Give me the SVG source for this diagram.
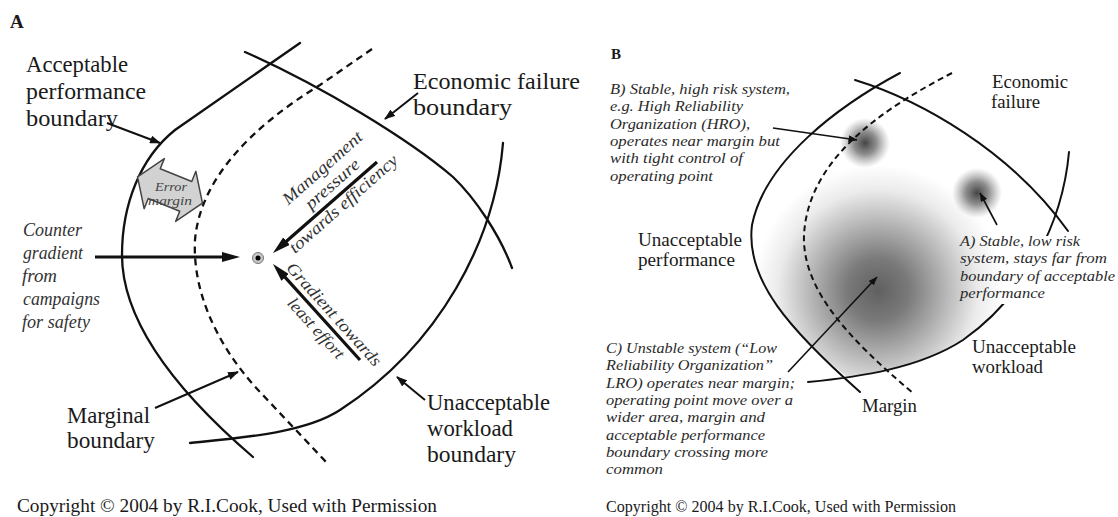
<svg xmlns="http://www.w3.org/2000/svg" width="1118" height="517" viewBox="0 0 1118 517">
<defs>
<style>
.t{font-family:"Liberation Serif","Times New Roman",serif;fill:#1a1a1a}
.hd{font-weight:bold}
.lbA{font-size:23px}
.itA{font-size:18px;font-style:italic;fill:#333}
.rot{font-size:17px;font-style:italic;fill:#333}
.em{font-size:13.5px;font-style:italic;fill:#444}
.itB{font-size:15px;font-style:italic;fill:#2a2a2a}
.lbB{font-size:18px}
.cpA{font-size:19px}
.cpB{font-size:16px}
.bound{fill:none;stroke:#111;stroke-width:2.3;stroke-linecap:round}
.dash{fill:none;stroke:#111;stroke-width:2.3;stroke-dasharray:7 5}
.boundB{fill:none;stroke:#111;stroke-width:2;stroke-linecap:round}
.dashB{fill:none;stroke:#111;stroke-width:2;stroke-dasharray:6 4}
.arA{stroke:#111;stroke-width:2;fill:none;marker-end:url(#mA)}
.arT{stroke:#111;stroke-width:3.2;fill:none;marker-end:url(#mT)}
.arB{stroke:#111;stroke-width:1.6;fill:none;marker-end:url(#mB)}
</style>
<marker id="mA" markerUnits="userSpaceOnUse" markerWidth="11" markerHeight="8" viewBox="0 0 11 8" refX="10" refY="4" orient="auto"><path d="M0,0 L11,4 L0,8 z" fill="#111"/></marker>
<marker id="mT" markerUnits="userSpaceOnUse" markerWidth="18" markerHeight="10" viewBox="0 0 18 10" refX="10" refY="5" orient="auto"><path d="M0,0 L18,5 L0,10 z" fill="#111"/></marker>
<marker id="mB" markerUnits="userSpaceOnUse" markerWidth="9" markerHeight="7" viewBox="0 0 9 7" refX="8.5" refY="3.5" orient="auto"><path d="M0,0 L9,3.5 L0,7 z" fill="#111"/></marker>
<radialGradient id="gBig" cx="878" cy="290" r="125" gradientUnits="userSpaceOnUse"><stop offset="0" stop-color="#606060"/><stop offset="0.25" stop-color="#7a7a7a"/><stop offset="0.55" stop-color="#b8b8b8"/><stop offset="0.8" stop-color="#ebebeb"/><stop offset="1" stop-color="#fff"/></radialGradient>
<radialGradient id="gSm"><stop offset="0" stop-color="#444" stop-opacity="1"/><stop offset="0.45" stop-color="#666" stop-opacity="0.75"/><stop offset="1" stop-color="#888" stop-opacity="0"/></radialGradient>
<clipPath id="cBig"><path d="M900,73 C840,105 765,160 752,225 C745,280 790,330 847,377 L887,371 L920,362 L963,340 L998,310 L1030,265 L1055,210 L1069,152 L1069,60 Z"/></clipPath>
<mask id="mW" maskUnits="userSpaceOnUse" x="0" y="0" width="1118" height="517"><rect x="0" y="0" width="1118" height="517" fill="#fff"/><rect x="950" y="236" width="168" height="68" fill="#000"/></mask>
</defs>
<rect width="1118" height="517" fill="#fff"/>

<!-- Panel A -->
<g id="panelA-title"><text class="t hd" x="10" y="28" style="font-size:19px">A</text></g>
<g id="A-boundaries">
<path id="A-acceptable" class="bound" d="M300,43 L175,130 C140,158 122,205 122,255 C122,320 175,390 253,457"/>
<path id="A-economic" class="bound" d="M245,52 C320,85 410,140 453,177 C475,198 500,235 512,268"/>
<path id="A-workload" class="bound" d="M503,143 C495,240 440,345 340,410 C305,433 240,438 190,443"/>
<path id="A-marginal" class="dash" d="M372,49 L320,85 C250,128 200,180 195,240 C192,300 225,355 260,392 L327,463"/>
</g>
<g id="error-margin">
<polygon transform="translate(170,190) rotate(22)" points="-35,0 -17,-27 -17,-16 17,-16 17,-27 35,0 17,27 17,16 -17,16 -17,27" fill="#d2d2d2" stroke="#444" stroke-width="1.5" stroke-linejoin="round"/>
<text class="t em" x="171" y="191" text-anchor="middle" textLength="32" lengthAdjust="spacingAndGlyphs">Error</text>
<text class="t em" x="170" y="205" text-anchor="middle" textLength="44" lengthAdjust="spacingAndGlyphs">margin</text>
</g>
<g id="operating-point">
<circle cx="258" cy="258" r="5.5" fill="#c8c8c8" stroke="#777" stroke-width="1"/>
<circle cx="258" cy="258" r="2.5" fill="#000"/>
</g>
<g id="A-label-acceptable">
<text class="t lbA" x="26" y="72" textLength="102" lengthAdjust="spacingAndGlyphs">Acceptable</text>
<text class="t lbA" x="26" y="99" textLength="120" lengthAdjust="spacingAndGlyphs">performance</text>
<text class="t lbA" x="26" y="126" textLength="92" lengthAdjust="spacingAndGlyphs">boundary</text>
</g>
<g id="A-label-economic">
<text class="t lbA" x="413" y="89" textLength="167" lengthAdjust="spacingAndGlyphs">Economic failure</text>
<text class="t lbA" x="413" y="115" textLength="99" lengthAdjust="spacingAndGlyphs">boundary</text>
</g>
<g id="A-label-marginal">
<text class="t lbA" x="67" y="423" textLength="83" lengthAdjust="spacingAndGlyphs">Marginal</text>
<text class="t lbA" x="67" y="448" textLength="88" lengthAdjust="spacingAndGlyphs">boundary</text>
</g>
<g id="A-label-workload">
<text class="t lbA" x="427" y="410" textLength="123" lengthAdjust="spacingAndGlyphs">Unacceptable</text>
<text class="t lbA" x="427" y="436" textLength="86" lengthAdjust="spacingAndGlyphs">workload</text>
<text class="t lbA" x="427" y="462" textLength="89" lengthAdjust="spacingAndGlyphs">boundary</text>
</g>
<g id="A-label-counter">
<text class="t itA" x="23" y="236" textLength="59" lengthAdjust="spacingAndGlyphs">Counter</text>
<text class="t itA" x="23" y="259" textLength="60" lengthAdjust="spacingAndGlyphs">gradient</text>
<text class="t itA" x="22" y="282" textLength="35" lengthAdjust="spacingAndGlyphs">from</text>
<text class="t itA" x="23" y="305" textLength="77" lengthAdjust="spacingAndGlyphs">campaigns</text>
<text class="t itA" x="22" y="328" textLength="68" lengthAdjust="spacingAndGlyphs">for safety</text>
</g>
<g id="A-label-management">
<text class="t rot" x="326" y="172" text-anchor="middle" transform="rotate(-41.5 326 172)" textLength="101" lengthAdjust="spacingAndGlyphs">Management</text>
<text class="t rot" x="336" y="188" text-anchor="middle" transform="rotate(-41.5 336 188)" textLength="67" lengthAdjust="spacingAndGlyphs">pressure</text>
<text class="t rot" x="347" y="208" text-anchor="middle" transform="rotate(-41.5 347 208)" textLength="139" lengthAdjust="spacingAndGlyphs">towards efficiency</text>
</g>
<g id="A-label-gradient">
<text class="t rot" x="330" y="318" text-anchor="middle" transform="rotate(48 330 318)" textLength="133" lengthAdjust="spacingAndGlyphs">Gradient towards</text>
<text class="t rot" x="312" y="332" text-anchor="middle" transform="rotate(48 312 332)" textLength="76" lengthAdjust="spacingAndGlyphs">least effort</text>
</g>
<g id="A-copyright"><text class="t cpA" x="17" y="512" textLength="420" lengthAdjust="spacingAndGlyphs">Copyright © 2004 by R.I.Cook, Used with Permission</text></g>

<!-- Panel B -->
<g id="panelB-title"><text class="t hd" x="611" y="59" style="font-size:15px">B</text></g>
<g id="B-blobs">
<rect x="700" y="140" width="370" height="260" fill="url(#gBig)" clip-path="url(#cBig)"/>
<circle cx="865" cy="143" r="25" fill="url(#gSm)"/>
<circle cx="977" cy="193" r="25" fill="url(#gSm)"/>
</g>
<g id="B-boundaries">
<path id="B-acceptable" class="boundB" d="M900,73 C840,105 765,160 752,225 C745,280 790,330 860,392"/>
<path id="B-economic" class="boundB" d="M855,80 C920,100 1010,150 1068,231"/>
<path id="B-workload" class="boundB" mask="url(#mW)" d="M1069,152 C1062,230 1020,300 963,340 C920,368 860,377 808,382"/>
<path id="B-margin" class="dashB" d="M952,73 C880,110 808,160 804,235 C802,290 850,340 913,393"/>
</g>
<g id="B-label-hro">
<text class="t itB" x="610" y="94" textLength="180" lengthAdjust="spacingAndGlyphs">B) Stable, high risk system,</text>
<text class="t itB" x="610" y="111.3" textLength="133" lengthAdjust="spacingAndGlyphs">e.g. High Reliability</text>
<text class="t itB" x="610" y="128.6" textLength="140" lengthAdjust="spacingAndGlyphs">Organization (HRO),</text>
<text class="t itB" x="610" y="145.9" textLength="170" lengthAdjust="spacingAndGlyphs">operates near margin but</text>
<text class="t itB" x="610" y="163.2" textLength="133" lengthAdjust="spacingAndGlyphs">with tight control of</text>
<text class="t itB" x="610" y="180.5" textLength="103" lengthAdjust="spacingAndGlyphs">operating point</text>
</g>
<g id="B-label-low">
<text class="t itB" x="960" y="246" textLength="120" lengthAdjust="spacingAndGlyphs">A) Stable, low risk</text>
<text class="t itB" x="960" y="263.3" textLength="147" lengthAdjust="spacingAndGlyphs">system, stays far from</text>
<text class="t itB" x="960" y="280.6" textLength="155" lengthAdjust="spacingAndGlyphs">boundary of acceptable</text>
<text class="t itB" x="960" y="297.9" textLength="85" lengthAdjust="spacingAndGlyphs">performance</text>
</g>
<g id="B-label-lro">
<text class="t itB" x="606" y="353" textLength="171" lengthAdjust="spacingAndGlyphs">C) Unstable system (“Low</text>
<text class="t itB" x="606" y="370.3" textLength="167" lengthAdjust="spacingAndGlyphs">Reliability Organization”</text>
<text class="t itB" x="606" y="387.6" textLength="189" lengthAdjust="spacingAndGlyphs">LRO) operates near margin;</text>
<text class="t itB" x="606" y="404.9" textLength="187" lengthAdjust="spacingAndGlyphs">operating point move over a</text>
<text class="t itB" x="606" y="422.2" textLength="159" lengthAdjust="spacingAndGlyphs">wider area, margin and</text>
<text class="t itB" x="606" y="439.5" textLength="159" lengthAdjust="spacingAndGlyphs">acceptable performance</text>
<text class="t itB" x="606" y="456.8" textLength="162" lengthAdjust="spacingAndGlyphs">boundary crossing more</text>
<text class="t itB" x="606" y="474.1" textLength="57" lengthAdjust="spacingAndGlyphs">common</text>
</g>
<g id="B-label-economic">
<text class="t lbB" x="992" y="88" textLength="76" lengthAdjust="spacingAndGlyphs">Economic</text>
<text class="t lbB" x="991" y="108" textLength="49" lengthAdjust="spacingAndGlyphs">failure</text>
</g>
<g id="B-label-performance">
<text class="t lbB" x="638" y="246" textLength="104" lengthAdjust="spacingAndGlyphs">Unacceptable</text>
<text class="t lbB" x="638" y="266" textLength="97" lengthAdjust="spacingAndGlyphs">performance</text>
</g>
<g id="B-label-workload">
<text class="t lbB" x="972" y="353" textLength="104" lengthAdjust="spacingAndGlyphs">Unacceptable</text>
<text class="t lbB" x="972" y="373" textLength="71" lengthAdjust="spacingAndGlyphs">workload</text>
</g>
<g id="B-label-margin"><text class="t lbB" x="862" y="412" textLength="55" lengthAdjust="spacingAndGlyphs">Margin</text></g>
<g id="B-copyright"><text class="t cpB" x="606" y="512" textLength="350" lengthAdjust="spacingAndGlyphs">Copyright © 2004 by R.I.Cook, Used with Permission</text></g>

<g id="connectors">
<line class="arA" x1="107" y1="123" x2="160" y2="143"/>
<line class="arA" x1="418" y1="93" x2="385" y2="119"/>
<line class="arA" x1="155" y1="408" x2="238" y2="372"/>
<line class="arA" x1="425" y1="400" x2="397" y2="377"/>
<line class="arT" x1="95" y1="257" x2="232" y2="257"/>
<line class="arT" x1="377" y1="162" x2="279" y2="247.7"/>
<line class="arT" x1="360" y1="360" x2="278.4" y2="269.9"/>
<line class="arB" x1="773" y1="128" x2="857" y2="140"/>
<line class="arB" x1="997" y1="225" x2="980" y2="193"/>
<line class="arB" x1="788" y1="372" x2="877" y2="277"/>
</g>
</svg>
